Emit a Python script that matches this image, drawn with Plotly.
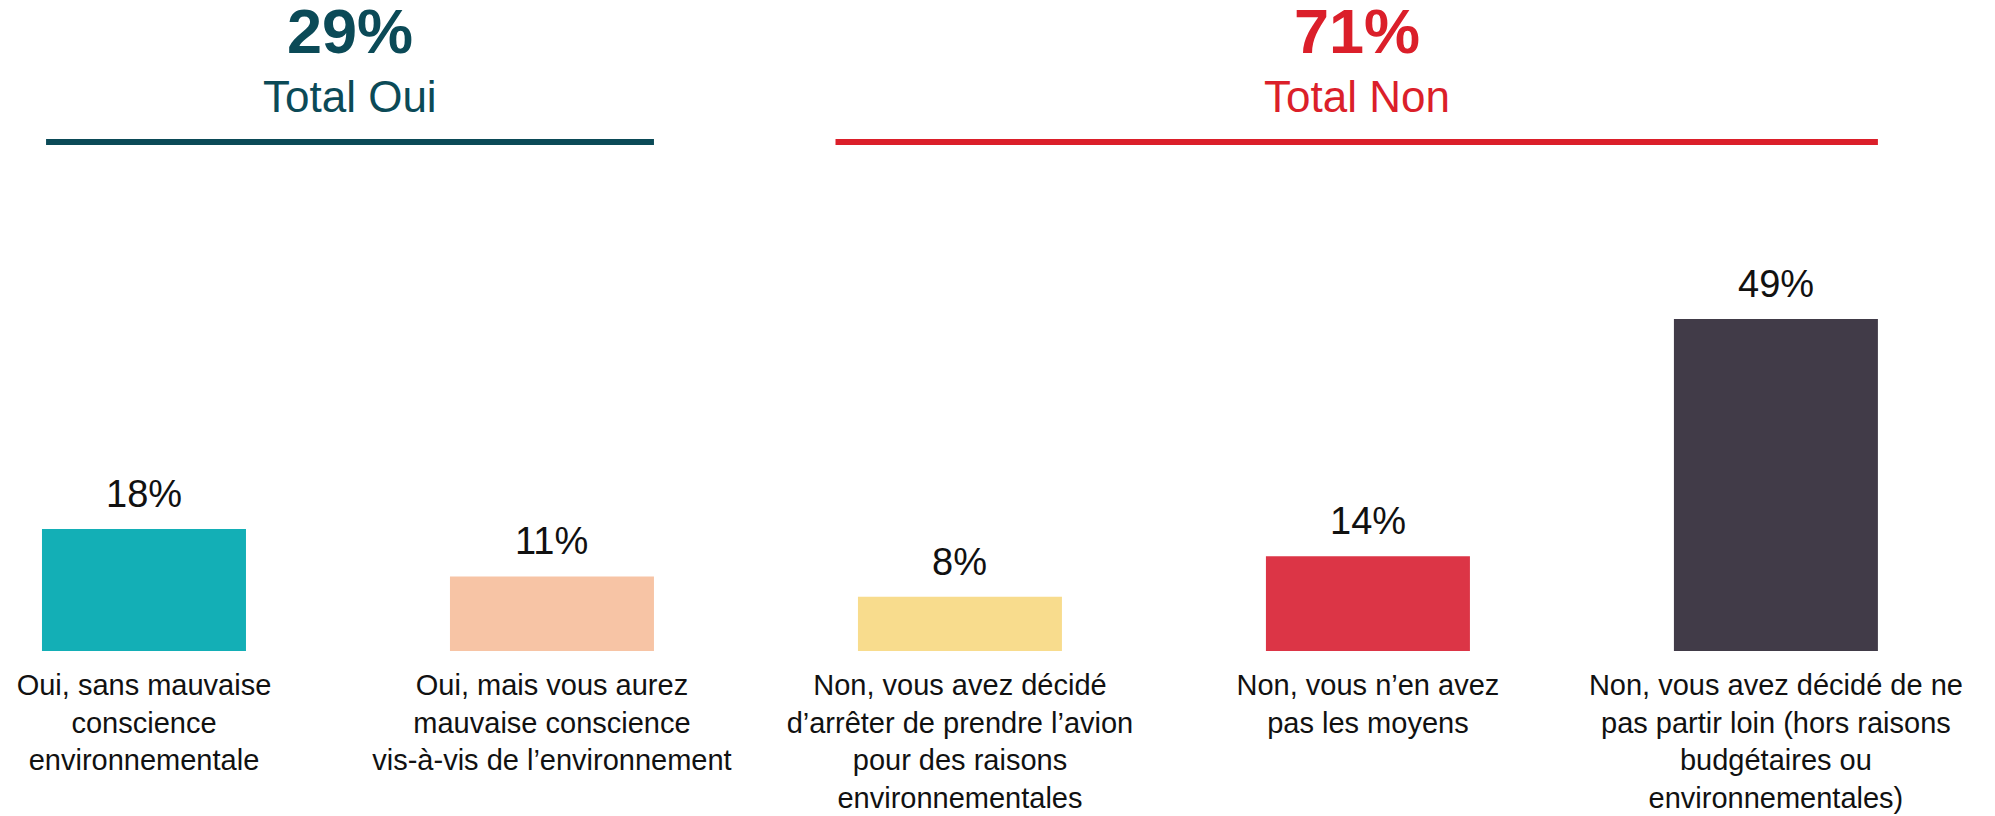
import plotly.graph_objects as go

categories = [
    "Oui, sans mauvaise<br>conscience<br>environnementale",
    "Oui, mais vous aurez<br>mauvaise conscience<br>vis-à-vis de l’environnement",
    "Non, vous avez décidé<br>d’arrêter de prendre l’avion<br>pour des raisons<br>environnementales",
    "Non, vous n’en avez<br>pas les moyens",
    "Non, vous avez décidé de ne<br>pas partir loin (hors raisons<br>budgétaires ou<br>environnementales)",
]
values = [18, 11, 8, 14, 49]
value_labels = ["18%", "11%", "8%", "14%", "49%"]
bar_colors = ["#13AFB6", "#F7C4A5", "#F8DC8D", "#DC3546", "#413B48"]

group_totals = ["29%", "71%"]
group_names = ["Total Oui", "Total Non"]
group_colors = ["#0B4A57", "#DB1F2A"]
group_spans = [(-0.24, 1.25), (1.695, 4.25)]

FONT = "Liberation Sans, Arial, sans-serif"
OFF = 8                 # default page body margin
W, H = 1995 - OFF, 816 - OFF
PLOT_H = 651 - OFF      # px height of plotting area (top margin 0)

def py(page_px):
    return (PLOT_H - (page_px - OFF)) / PLOT_H

x = list(range(len(values)))

fig = go.Figure()
fig.add_trace(go.Bar(
    x=x, y=values, width=0.5,
    marker=dict(color=bar_colors, line=dict(width=0)),
    hoverinfo="skip",
))

for i, (v, lab) in enumerate(zip(values, value_labels)):
    fig.add_annotation(x=i, y=v, xref="x", yref="y", text=lab, showarrow=False,
                       yanchor="bottom", yshift=12,
                       font=dict(family=FONT, size=38, color="#111111"))

for (x0, x1), tot, name, col in zip(group_spans, group_totals, group_names, group_colors):
    cx = (x0 + x1) / 2
    fig.add_annotation(x=cx, y=py(31), xref="x", yref="paper", text=f"<b>{tot}</b>",
                       showarrow=False, yanchor="middle",
                       font=dict(family=FONT, size=63, color=col))
    fig.add_annotation(x=cx, y=py(97), xref="x", yref="paper", text=name,
                       showarrow=False, yanchor="middle",
                       font=dict(family=FONT, size=44, color=col))
    fig.add_shape(type="line", xref="x", yref="paper", x0=x0, x1=x1,
                  y0=py(142), y1=py(142), line=dict(color=col, width=6))

fig.update_layout(
    width=W, height=H,
    margin=dict(l=0, r=0, t=0, b=H - PLOT_H, pad=0),
    plot_bgcolor="white", paper_bgcolor="white",
    showlegend=False,
    xaxis=dict(range=[-0.3333, 4.537], tickvals=x, ticktext=categories,
               showgrid=False, zeroline=False, showline=False, ticks="",
               tickfont=dict(family=FONT, size=29, color="#111111"),
               ticklabelstandoff=14),
    yaxis=dict(range=[0, PLOT_H / 6.776], visible=False, showgrid=False, zeroline=False),
)

fig.write_html("out.html")
